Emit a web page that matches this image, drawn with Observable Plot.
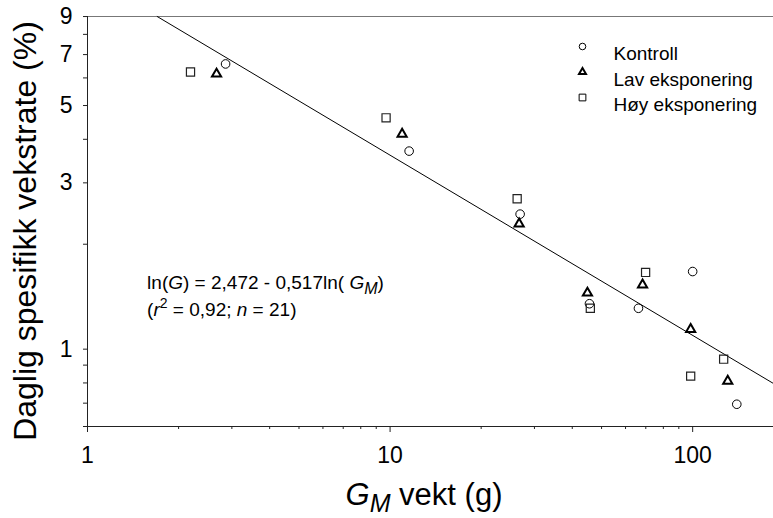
<!DOCTYPE html>
<html><head><meta charset="utf-8">
<script src="https://cdn.jsdelivr.net/npm/d3@7"></script>
<script src="https://cdn.jsdelivr.net/npm/@observablehq/plot@0.6"></script>
<style>
body{margin:0;background:#fff}
#chart svg{font-family:"Liberation Sans",Arial,sans-serif}
</style>
</head><body><div id="chart"></div>
<script>
// Kontroll (circles)
const kontrollX = [2.86, 11.56, 26.9, 45.6, 66.2, 100, 139.9];
const kontrollY = [6.58, 3.70, 2.44, 1.35, 1.31, 1.67, 0.695];
// Lav eksponering (triangles)
const lavX = [2.67, 10.96, 26.7, 44.9, 68.3, 98.5, 130.6];
const lavY = [6.16, 4.14, 2.29, 1.45, 1.53, 1.14, 0.81];
// Høy eksponering (squares)
const hoyX = [2.19, 9.70, 26.3, 45.9, 69.9, 98.5, 126.6];
const hoyY = [6.24, 4.61, 2.70, 1.31, 1.66, 0.837, 0.936];
// Regression line endpoints: ln(G) = 2,472 - 0,517 ln(GM)
const fitX = [1.70, 185];
const fitY = [9, 0.797];
// Ticks
const yTicks = [0.6, 0.7, 0.8, 0.9, 1, 2, 3, 4, 5, 6, 7, 8, 9];
const yLabelled = [1, 3, 5, 7, 9];
const xMajor = [1, 10, 100];
const xMinor = [2, 3, 4, 5, 6, 7, 8, 9, 20, 30, 40, 50, 60, 70, 80, 90];
const seriesNames = ["Kontroll", "Lav eksponering", "Høy eksponering"];
const seriesSymbols = ["circle", "triangle", "square"];

const toRows = (xs, ys) => xs.map((x, i) => ({x, y: ys[i]}));
const kontroll = toRows(kontrollX, kontrollY);
const lav = toRows(lavX, lavY);
const hoy = toRows(hoyX, hoyY);
const fit = toRows(fitX, fitY);

const legendMarks = seriesNames.flatMap((name, i) => [
  Plot.dot([name], {frameAnchor: "top-left", dx: 495, dy: 30 + i * 25.5, symbol: seriesSymbols[i],
    r: seriesSymbols[i] === "triangle" ? 2.6 : (seriesSymbols[i] === "square" ? 3.8 : 3.3),
    stroke: "#000", fill: "none",
    strokeWidth: seriesSymbols[i] === "triangle" ? 2 : 1}),
  Plot.text([name], {frameAnchor: "top-left", dx: 526, dy: 30 + i * 25.5, text: d => d,
    textAnchor: "start", fontSize: 19, fill: "#000"})
]);

const chart = Plot.plot({
  width: 773, height: 518,
  marginLeft: 87, marginRight: 0, marginTop: 16, marginBottom: 92,
  x: {type: "log", domain: [1, 185]},
  y: {type: "log", domain: [0.6, 9.002]},
  style: {fontFamily: "Liberation Sans, Arial, sans-serif", color: "#000", background: "#fff"},
  marks: [
    Plot.frame({anchor: "top", stroke: "#777"}),
    Plot.frame({anchor: "left", stroke: "#222"}),
    Plot.frame({anchor: "bottom", stroke: "#222"}),
    Plot.axisY({ticks: yTicks, tickFormat: () => "", tickSize: 4, label: null, stroke: "#222"}),
    Plot.text(yLabelled, {y: d => d, text: d => String(d), frameAnchor: "left", dx: -15, textAnchor: "end", fontSize: 23, fill: "#000"}),
    Plot.axisX({ticks: xMinor, tickFormat: () => "", tickSize: 3, label: null, stroke: "#222"}),
    Plot.axisX({ticks: xMajor, tickFormat: d => String(d), tickSize: 6, tickPadding: 14, fontSize: 23, label: null, stroke: "#222"}),
    Plot.line(fit, {x: "x", y: "y", stroke: "#000", strokeWidth: 1}),
    Plot.dot(kontroll, {x: "x", y: "y", symbol: "circle", r: 4.3, stroke: "#000", fill: "none", strokeWidth: 1}),
    Plot.dot(lav, {x: "x", y: "y", symbol: "triangle", r: 3.4, stroke: "#000", fill: "none", strokeWidth: 2}),
    Plot.dot(hoy, {x: "x", y: "y", symbol: "square", r: 4.6, stroke: "#222", fill: "none", strokeWidth: 1.2}),
    ...legendMarks
  ]
});
document.getElementById("chart").append(chart);

const svg = d3.select(chart);
const sx = chart.scale("x"), sy = chart.scale("y");

// Annotation (regression equation)
const annX = 1.58, ann1Y = 1.487, ann2Y = 1.244;
const t1 = svg.append("text").attr("x", sx.apply(annX)).attr("y", sy.apply(ann1Y))
  .attr("text-anchor", "start").attr("font-size", 19).attr("fill", "#000");
t1.append("tspan").text("ln(");
t1.append("tspan").attr("font-style", "italic").text("G");
t1.append("tspan").text(") = 2,472 - 0,517ln( ");
t1.append("tspan").attr("font-style", "italic").text("G");
t1.append("tspan").attr("font-style", "italic").attr("font-size", 16).attr("dy", 5).text("M");
t1.append("tspan").attr("dy", -5).text(")");

const t2 = svg.append("text").attr("x", sx.apply(annX)).attr("y", sy.apply(ann2Y))
  .attr("text-anchor", "start").attr("font-size", 19).attr("fill", "#000");
t2.append("tspan").text("(");
t2.append("tspan").attr("font-style", "italic").text("r");
t2.append("tspan").attr("font-size", 14).attr("dy", -8).text("2");
t2.append("tspan").attr("dy", 8).text(" = 0,92; ");
t2.append("tspan").attr("font-style", "italic").text("n");
t2.append("tspan").text(" = 21)");

// Axis titles
svg.append("text").attr("transform", "translate(36,231) rotate(-90)")
  .attr("text-anchor", "middle").attr("font-size", 32).attr("fill", "#000")
  .text("Daglig spesifikk vekstrate (%)");

const xt = svg.append("text").attr("x", 424).attr("y", 505).attr("text-anchor", "middle")
  .attr("font-size", 31).attr("fill", "#000");
xt.append("tspan").attr("font-style", "italic").text("G");
xt.append("tspan").attr("font-style", "italic").attr("font-size", 25).attr("dy", 7).text("M");
xt.append("tspan").attr("dy", -7).text(" vekt (g)");
</script>
</body></html>
